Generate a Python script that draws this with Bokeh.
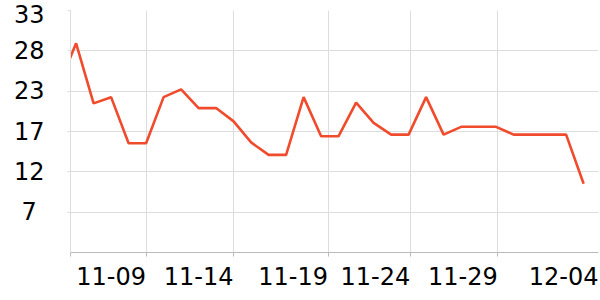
import pandas as pd
from bokeh.plotting import figure
from bokeh.models import Range1d, FixedTicker, CustomJSTickFormatter
from bokeh.embed import file_html
from bokeh.resources import INLINE

# ---- data ----
dates = [
    "2023-11-04", "2023-11-05", "2023-11-06", "2023-11-07", "2023-11-08",
    "2023-11-09", "2023-11-10", "2023-11-11", "2023-11-12", "2023-11-13",
    "2023-11-14", "2023-11-15", "2023-11-16", "2023-11-17", "2023-11-18",
    "2023-11-19", "2023-11-20", "2023-11-21", "2023-11-22", "2023-11-23",
    "2023-11-24", "2023-11-25", "2023-11-26", "2023-11-27", "2023-11-28",
    "2023-11-29", "2023-11-30", "2023-12-01", "2023-12-02", "2023-12-03",
    "2023-12-04",
]
values = [
    23.3, 28.8, 21.1, 21.9, 16.0,
    16.0, 21.9, 22.9, 20.5, 20.5,
    18.8, 16.1, 14.5, 14.5, 21.9,
    16.9, 16.9, 21.2, 18.6, 17.1,
    17.1, 21.9, 17.1, 18.1, 18.1,
    18.1, 17.1, 17.1, 17.1, 17.1,
    10.8,
]
x_tick_labels = ["11-09", "11-14", "11-19", "11-24", "11-29", "12-04"]
y_tick_labels = ["7\u00a0", "12", "17", "23", "28", "33"]

# ---- layout (day offsets from first date) ----
t0 = pd.Timestamp(dates[0])
day = [(pd.Timestamp(d) - t0).days for d in dates]

X_START, X_END = 0.68, 30.85
GRID_X = [0.69, 5.0, 10.0, 15.4, 20.12, 25.09]
LABEL_X = [3.0, 8.0, 13.4, 18.1, 23.1, 28.86]
Y_MIN, Y_MAX = 2, 33
Y_TICKS = [Y_MIN + (Y_MAX - Y_MIN) / 6 * k for k in range(1, 7)]

FONT = "DejaVu Sans"

p = figure(width=600, height=300, output_backend="svg", toolbar_location=None,
           x_range=Range1d(X_START, X_END), y_range=Range1d(Y_MIN, Y_MAX),
           min_border_left=70, min_border_right=2, min_border_top=10,
           min_border_bottom=48)
p.outline_line_color = None
p.background_fill_color = "white"
p.border_fill_color = "white"

p.line(day, values, line_width=2.6, line_color="#ef4b2c")

fmt_js = """
for (let i = 0; i < pos.length; i++) {
  if (Math.abs(pos[i] - tick) < 1e-6) return labs[i];
}
return "";
"""

# x axis
xa = p.xaxis[0]
xa.ticker = FixedTicker(ticks=LABEL_X, minor_ticks=GRID_X)
xa.formatter = CustomJSTickFormatter(args=dict(pos=LABEL_X, labs=x_tick_labels), code=fmt_js)
xa.major_tick_line_color = None
xa.minor_tick_in = 0
xa.minor_tick_out = 4
xa.minor_tick_line_color = "#bbbbbb"
xa.axis_line_color = "#bbbbbb"
xa.major_label_text_font = FONT
xa.major_label_text_font_size = "24px"
xa.major_label_text_color = "#000000"
xa.major_label_standoff = 8

# y axis
ya = p.yaxis[0]
ya.ticker = FixedTicker(ticks=Y_TICKS, minor_ticks=[])
ya.formatter = CustomJSTickFormatter(args=dict(pos=Y_TICKS, labs=y_tick_labels), code=fmt_js)
ya.major_tick_in = 0
ya.major_tick_out = 3
ya.major_tick_line_color = "#dddddd"
ya.minor_tick_line_color = None
ya.axis_line_color = "#dddddd"
ya.major_label_text_font = FONT
ya.major_label_text_font_size = "24px"
ya.major_label_text_color = "#000000"
ya.major_label_standoff = 23

# grids
p.xgrid.ticker = FixedTicker(ticks=GRID_X)
p.xgrid.grid_line_color = "#dddddd"
p.ygrid.grid_line_color = "#dddddd"

open("out.html", "w").write(file_html(p, INLINE))
